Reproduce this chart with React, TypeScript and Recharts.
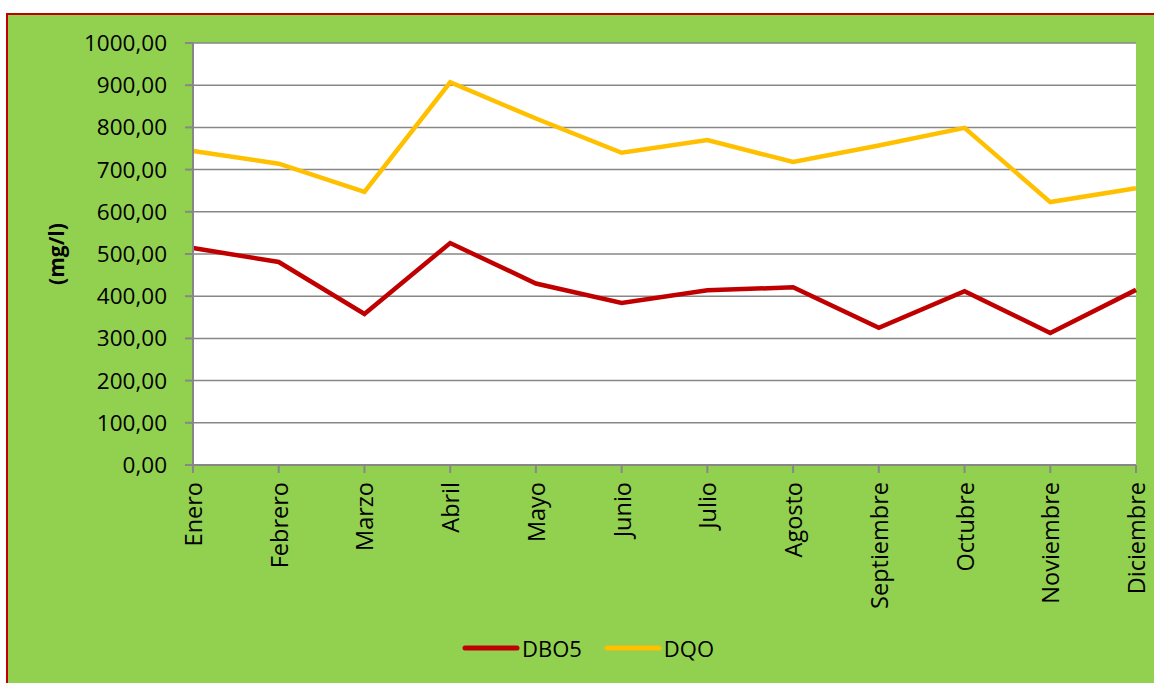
import { LineChart, Line, XAxis, YAxis, CartesianGrid, Legend } from 'recharts';

const months = ['Enero', 'Febrero', 'Marzo', 'Abril', 'Mayo', 'Junio', 'Julio', 'Agosto', 'Septiembre', 'Octubre', 'Noviembre', 'Diciembre'];
const dbo5 = [514, 481, 358, 526, 430, 384, 414, 421, 325, 412, 313, 415];
const dqo = [744, 714, 647, 907, 821, 740, 770, 718, 757, 799, 623, 656];
const yTicks = [0, 100, 200, 300, 400, 500, 600, 700, 800, 900, 1000];

const data = months.map((m, i) => ({ month: m, DBO5: dbo5[i], DQO: dqo[i] }));

const FONT = '"Open Sans", sans-serif';
const GRAY = '#878787';

const fmt = (v: number) => v.toFixed(2).replace('.', ',');

function MonthTick(props: any) {
  const { x, y, payload } = props;
  return (
    <text
      x={x}
      y={y}
      transform={`rotate(-90, ${x}, ${y})`}
      textAnchor="end"
      dominantBaseline="central"
      fontFamily={FONT}
      fontSize={23.5}
      fill="#000"
    >
      {payload.value}
    </text>
  );
}

function LegendBox(props: any) {
  const items = props.payload || [];
  return (
    <div style={{ display: 'flex', justifyContent: 'center', paddingLeft: 44, fontFamily: FONT, fontSize: 22 }}>
      {items.map((it: any) => (
        <div key={it.value} style={{ display: 'flex', alignItems: 'center', marginRight: 22 }}>
          <svg width={58} height={10} style={{ marginRight: 2 }}>
            <line x1={3} y1={5} x2={55} y2={5} stroke={it.color} strokeWidth={5} strokeLinecap="round" />
          </svg>
          <span style={{ color: '#000' }}>{it.value}</span>
        </div>
      ))}
    </div>
  );
}

export default function App() {
  return (
    <div style={{ position: 'absolute', left: 0, top: 0, width: 1154, height: 683, background: '#fff', overflow: 'hidden' }}>
      <div
        style={{
          position: 'absolute',
          left: 6,
          top: 13,
          width: 1160,
          height: 680,
          boxSizing: 'border-box',
          background: '#92D050',
          borderTop: '2px solid #C00000',
          borderLeft: '2px solid #C00000',
        }}
      />
      <div style={{ position: 'absolute', left: 0, top: 0 }}>
        <LineChart width={1154} height={683} data={data} margin={{ top: 43, right: 18, left: 0, bottom: 0 }}>
          <CartesianGrid vertical={false} fill="#fff" stroke={GRAY} strokeWidth={1.5} />
          <XAxis
            dataKey="month"
            height={218}
            tickSize={8}
            tickMargin={9}
            interval={0}
            axisLine={{ stroke: GRAY, strokeWidth: 2 }}
            tickLine={{ stroke: GRAY, strokeWidth: 2 }}
            tick={<MonthTick />}
          />
          <YAxis
            width={193}
            domain={[0, 1000]}
            ticks={yTicks}
            tickFormatter={fmt}
            tickSize={8}
            tickMargin={18}
            axisLine={{ stroke: GRAY, strokeWidth: 2 }}
            tickLine={{ stroke: GRAY, strokeWidth: 2 }}
            tick={{ fill: '#000', fontFamily: FONT, fontSize: 22.5 }}
            label={{
              value: '(mg/l)',
              angle: -90,
              position: 'insideLeft',
              offset: 57,
              textAnchor: 'middle',
              style: { fontFamily: FONT, fontSize: 21, fontWeight: 'bold', fill: '#000' },
            }}
          />
          <Legend
            verticalAlign="middle"
            align="center"
            layout="horizontal"
            content={<LegendBox />}
            wrapperStyle={{ top: 633, left: 0, width: 1154 }}
          />
          <Line type="linear" dataKey="DBO5" stroke="#C00000" strokeWidth={4.5} dot={false} isAnimationActive={false} />
          <Line type="linear" dataKey="DQO" stroke="#FFC000" strokeWidth={4.5} dot={false} isAnimationActive={false} />
        </LineChart>
      </div>
    </div>
  );
}
